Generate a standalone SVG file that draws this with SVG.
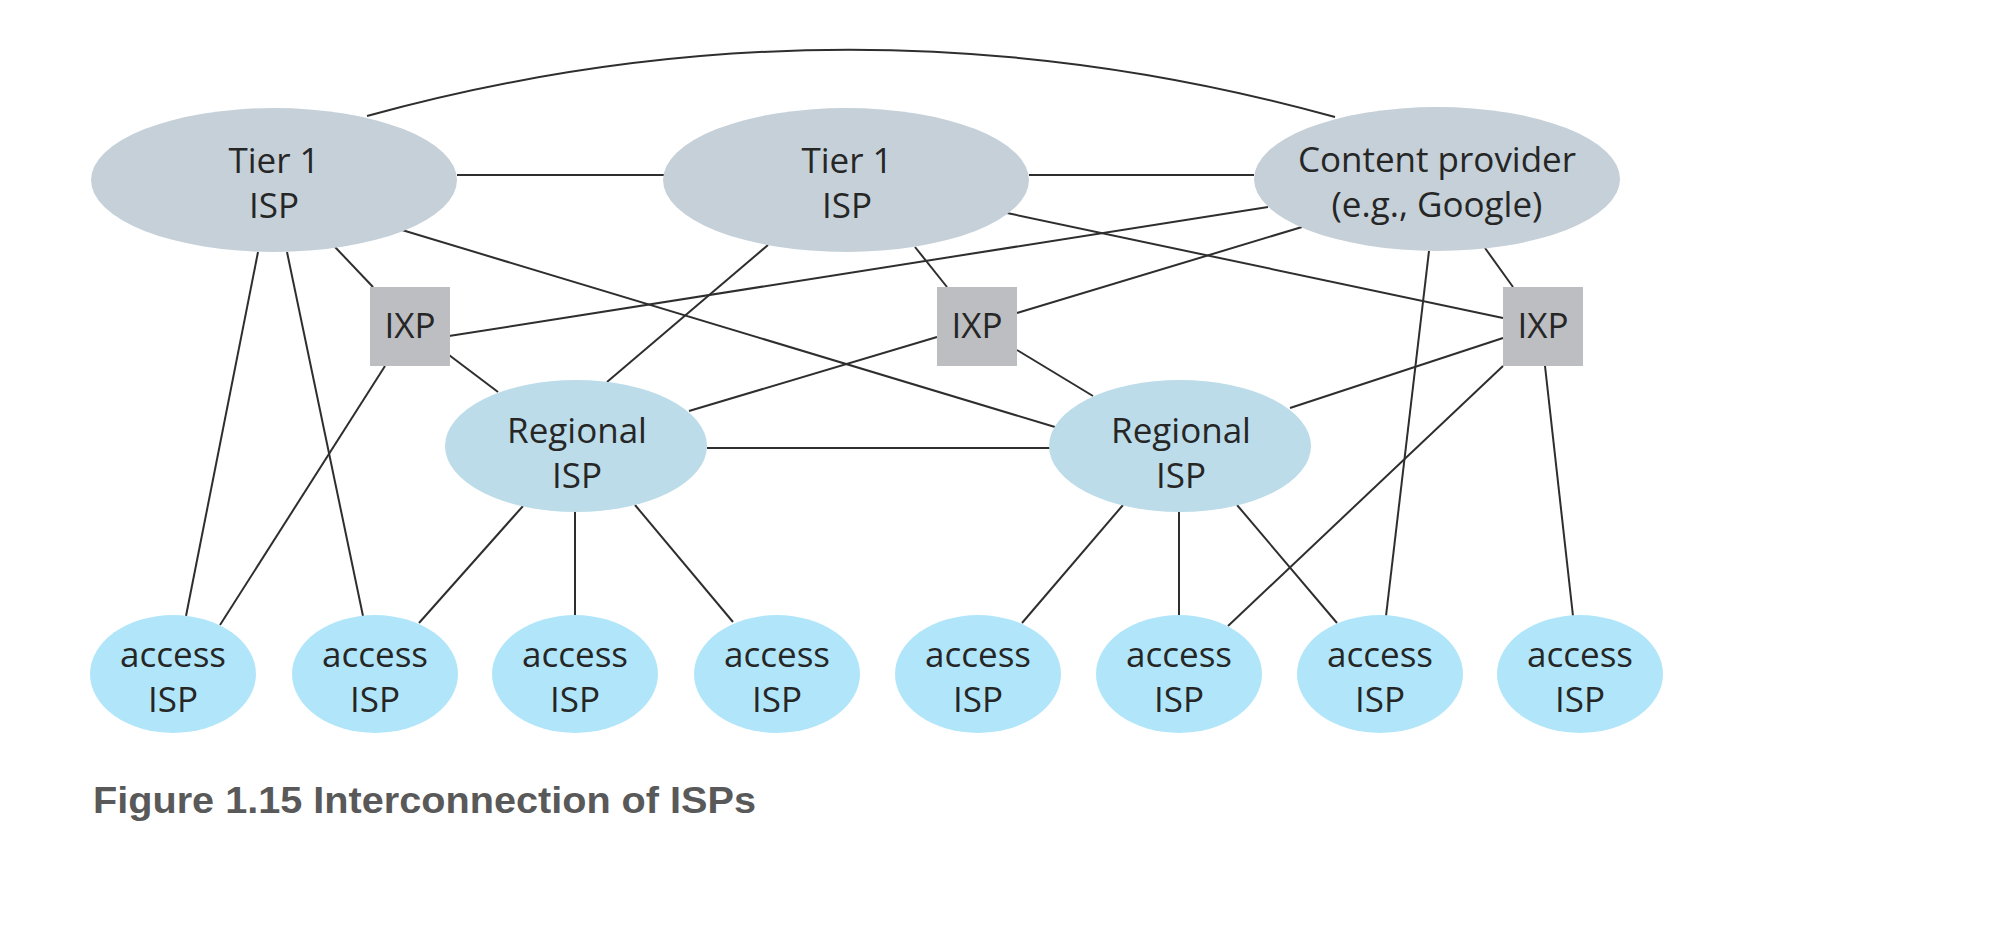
<svg xmlns="http://www.w3.org/2000/svg" width="2000" height="936" viewBox="0 0 2000 936">
<style>
.ln{stroke:#2e2e2e;stroke-width:2;fill:none}
.tier{fill:#c5d0d8}
.reg{fill:#bbdce8}
.acc{fill:#b1e6fa}
.ixp{fill:#bdbec2}
.t{font-family:"Open Sans","Liberation Sans",sans-serif;font-size:35px;fill:#262626;text-anchor:middle}
.cap{font-family:"Liberation Sans",Arial,sans-serif;font-size:37px;font-weight:bold;fill:#595959}
</style>
<rect width="2000" height="936" fill="#fff"/>
<g id="connectors">
<path class="ln" d="M367,116 Q851,-17 1335,117"/>
<line class="ln" x1="457" y1="175" x2="664" y2="175" stroke-width="2.5"/>
<line class="ln" x1="1029" y1="175" x2="1254" y2="175" stroke-width="2.5"/>
<line class="ln" x1="258" y1="252" x2="186" y2="616"/>
<line class="ln" x1="287" y1="252" x2="363" y2="616"/>
<line class="ln" x1="335" y1="247" x2="373" y2="287"/>
<line class="ln" x1="402" y1="230" x2="1055" y2="427"/>
<line class="ln" x1="449" y1="355" x2="498" y2="392"/>
<line class="ln" x1="385" y1="366" x2="220" y2="625"/>
<line class="ln" x1="449" y1="336" x2="1268" y2="207"/>
<line class="ln" x1="768" y1="245" x2="607" y2="382"/>
<line class="ln" x1="915" y1="247" x2="947" y2="287"/>
<line class="ln" x1="1007" y1="213" x2="1503" y2="318"/>
<line class="ln" x1="937" y1="337" x2="689" y2="411"/>
<line class="ln" x1="1017" y1="313" x2="1302" y2="227"/>
<line class="ln" x1="1017" y1="350" x2="1093" y2="396"/>
<line class="ln" x1="1485" y1="248" x2="1513" y2="287"/>
<line class="ln" x1="1429" y1="251" x2="1386" y2="616"/>
<line class="ln" x1="1503" y1="338" x2="1290" y2="408"/>
<line class="ln" x1="1503" y1="366" x2="1228" y2="626"/>
<line class="ln" x1="1545" y1="366" x2="1573" y2="616"/>
<line class="ln" x1="523" y1="506" x2="419" y2="623"/>
<line class="ln" x1="575" y1="512" x2="575" y2="615"/>
<line class="ln" x1="635" y1="505" x2="733" y2="622"/>
<line class="ln" x1="1123" y1="505" x2="1022" y2="623"/>
<line class="ln" x1="1179" y1="512" x2="1179" y2="615"/>
<line class="ln" x1="1237" y1="505" x2="1337" y2="623"/>
<line class="ln" x1="707" y1="448" x2="1050" y2="448" stroke="#555" stroke-width="3"/>
</g>
<g id="tier1-left"><ellipse class="tier" cx="274" cy="180" rx="183" ry="72"/><text class="t" x="274" y="173">Tier 1</text><text class="t" x="274" y="218">ISP</text></g>
<g id="tier1-middle"><ellipse class="tier" cx="846" cy="180" rx="183" ry="72"/><text class="t" x="847" y="173">Tier 1</text><text class="t" x="847" y="218">ISP</text></g>
<g id="content-provider"><ellipse class="tier" cx="1437" cy="179" rx="183" ry="72"/><text class="t" x="1437" y="172">Content provider</text><text class="t" x="1437" y="217">(e.g., Google)</text></g>
<g id="ixp-left"><rect class="ixp" x="370" y="287" width="80" height="79"/><text class="t" x="410" y="338">IXP</text></g>
<g id="ixp-middle"><rect class="ixp" x="937" y="287" width="80" height="79"/><text class="t" x="977" y="338">IXP</text></g>
<g id="ixp-right"><rect class="ixp" x="1503" y="287" width="80" height="79"/><text class="t" x="1543" y="338">IXP</text></g>
<g id="regional-left"><ellipse class="reg" cx="576" cy="446" rx="131" ry="66"/><text class="t" x="577" y="443">Regional</text><text class="t" x="577" y="488">ISP</text></g>
<g id="regional-right"><ellipse class="reg" cx="1180" cy="446" rx="131" ry="66"/><text class="t" x="1181" y="443">Regional</text><text class="t" x="1181" y="488">ISP</text></g>
<g id="access-1"><ellipse class="acc" cx="173" cy="674" rx="83" ry="59"/><text class="t" x="173" y="667">access</text><text class="t" x="173" y="712">ISP</text></g>
<g id="access-2"><ellipse class="acc" cx="375" cy="674" rx="83" ry="59"/><text class="t" x="375" y="667">access</text><text class="t" x="375" y="712">ISP</text></g>
<g id="access-3"><ellipse class="acc" cx="575" cy="674" rx="83" ry="59"/><text class="t" x="575" y="667">access</text><text class="t" x="575" y="712">ISP</text></g>
<g id="access-4"><ellipse class="acc" cx="777" cy="674" rx="83" ry="59"/><text class="t" x="777" y="667">access</text><text class="t" x="777" y="712">ISP</text></g>
<g id="access-5"><ellipse class="acc" cx="978" cy="674" rx="83" ry="59"/><text class="t" x="978" y="667">access</text><text class="t" x="978" y="712">ISP</text></g>
<g id="access-6"><ellipse class="acc" cx="1179" cy="674" rx="83" ry="59"/><text class="t" x="1179" y="667">access</text><text class="t" x="1179" y="712">ISP</text></g>
<g id="access-7"><ellipse class="acc" cx="1380" cy="674" rx="83" ry="59"/><text class="t" x="1380" y="667">access</text><text class="t" x="1380" y="712">ISP</text></g>
<g id="access-8"><ellipse class="acc" cx="1580" cy="674" rx="83" ry="59"/><text class="t" x="1580" y="667">access</text><text class="t" x="1580" y="712">ISP</text></g>
<text class="cap" x="93" y="813" textLength="663" lengthAdjust="spacingAndGlyphs">Figure 1.15 Interconnection of ISPs</text>
</svg>
